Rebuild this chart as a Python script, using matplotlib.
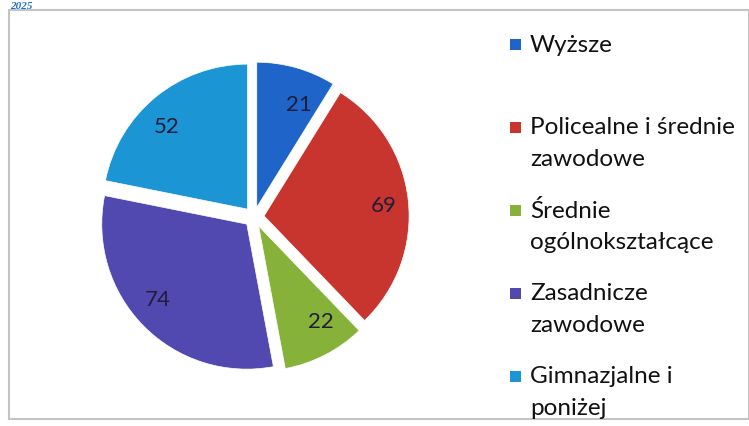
import matplotlib
matplotlib.use("Agg")
import matplotlib.pyplot as plt
from matplotlib.patches import Rectangle

categories = ["Wyższe", "Policealne i średnie\nzawodowe", "Średnie\nogólnokształcące",
              "Zasadnicze\nzawodowe", "Gimnazjalne i\nponiżej"]
values = [21, 69, 22, 74, 52]
colors = ["#1f64c8", "#c8352e", "#86b23a", "#5249b0", "#1c95d4"]
title_text = "2025"

W, H = 749, 427
fig = plt.figure(figsize=(W / 100, H / 100), dpi=100)
plt.rcParams['font.family'] = ['Lato', 'DejaVu Sans']

# chart border
fig.patches.append(Rectangle((9 / W, 1 - 420 / H), (W - 9) / W, (420 - 11) / H,
                             transform=fig.transFigure, fill=False,
                             edgecolor="#c4c4c4", linewidth=1.5))

# title at the top edge
fig.text(10 / W, 1 - 9 / H, title_text, color="#1f6fd0", fontsize=8,
         fontweight="bold", fontstyle="italic", family="Liberation Serif",
         ha="left", va="baseline")

# pie
cx, cy, R = 254, 218, 145
lim = 1.1
side = 2 * lim * R
ax = fig.add_axes([(cx - side / 2) / W, (H - cy - side / 2) / H, side / W, side / H])
wedges, texts = ax.pie(values, colors=colors, startangle=90, counterclock=False,
                       explode=[0.07] * len(values), labels=[str(v) for v in values],
                       labeldistance=0.74,
                       wedgeprops=dict(edgecolor="#ffffff", linewidth=0.5),
                       textprops=dict(color="#1e1e3a", fontsize=16))
ax.set_xlim(-lim, lim)
ax.set_ylim(-lim, lim)
ax.set_aspect("equal")
ax.axis("off")

# legend
y0 = 45
step = 83
for i, (lab, col) in enumerate(zip(categories, colors)):
    y = y0 + i * step
    fig.patches.append(Rectangle((510 / W, 1 - (y + 6) / H), 11 / W, 11 / H,
                                 transform=fig.transFigure, facecolor=col,
                                 edgecolor="none"))
    for j, ln in enumerate(lab.split("\n")):
        fig.text(530 / W, 1 - (y + j * 32) / H, ln, fontsize=17.5, color="#111111",
                 ha="left", va="center")

fig.savefig("out.png", dpi=100)
